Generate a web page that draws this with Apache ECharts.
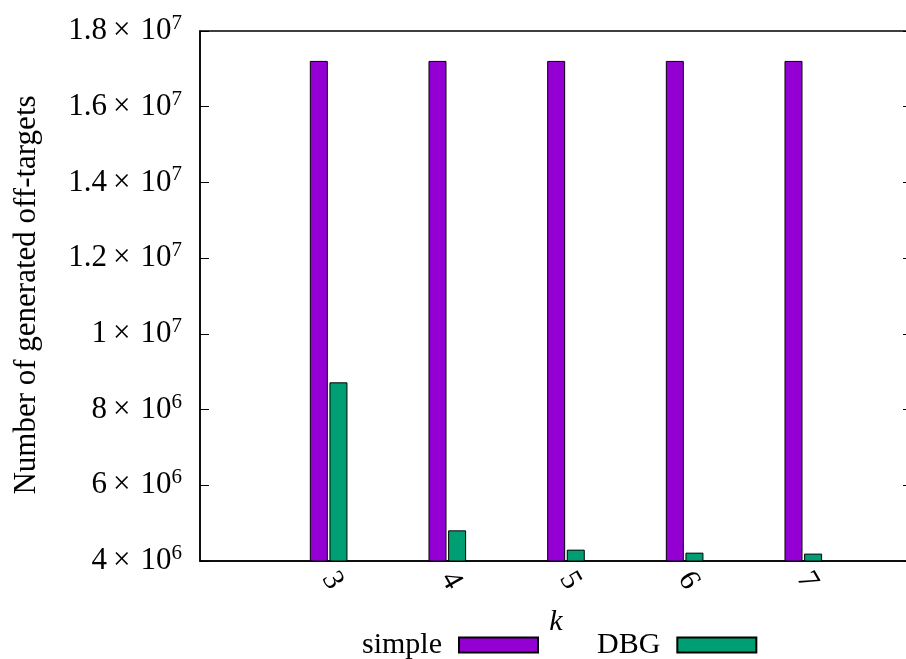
<!DOCTYPE html>
<html>
<head>
<meta charset="utf-8">
<script src="https://cdn.jsdelivr.net/npm/echarts@6/dist/echarts.min.js"></script>
<style>html,body{margin:0;padding:0;background:#fff}#c{width:906px;height:659px}</style>
</head>
<body>
<div id="c"></div>
<script>
var kValues = [3, 4, 5, 6, 7];
var simpleValues = [17210000, 17210000, 17210000, 17210000, 17210000];
var dbgValues = [8720000, 4810000, 4300000, 4220000, 4195000];
var seriesNames = ['simple', 'DBG'];
var yTicks = [4e6, 6e6, 8e6, 1e7, 1.2e7, 1.4e7, 1.6e7, 1.8e7];
var yTitle = 'Number of generated off-targets';
var xTitle = 'k';

var FONT = 'Liberation Serif';
var FS = 30;

function sciLabel(v) {
  var e = Math.floor(Math.log10(v) + 1e-9);
  var m = v / Math.pow(10, e);
  m = Math.round(m * 10) / 10;
  return '{m|' + m + '}{x|×}{m|10}{e|' + e + '}';
}

var chart = echarts.init(document.getElementById('c'));
var pairs = function (arr) { return arr.map(function (v, i) { return [kValues[i], v]; }); };
chart.setOption({
  animation: false,
  backgroundColor: '#fff',
  grid: { left: 200, top: 31, width: 712, height: 530, outerBoundsMode: 'none', containLabel: false, show: true, borderColor: '#000', borderWidth: 1.5, backgroundColor: 'transparent' },
  xAxis: {
    type: 'value',
    min: kValues[0] - 1.084,
    max: kValues[kValues.length - 1] + 0.916,
    splitLine: { show: false },
    axisLine: { show: true, onZero: false, lineStyle: { color: '#000', width: 1.5 } },
    axisTick: { show: false },
    axisLabel: {
      customValues: kValues,
      rotate: -60,
      margin: 13,
      fontFamily: FONT, fontSize: FS, color: '#000'
    },
    name: xTitle,
    nameLocation: 'middle',
    nameGap: 46,
    nameTextStyle: { fontFamily: FONT, fontSize: FS, fontStyle: 'italic', color: '#000' }
  },
  yAxis: [{
    type: 'value',
    min: yTicks[0],
    max: yTicks[yTicks.length - 1],
    interval: 2e6,
    splitLine: { show: false },
    axisLine: { show: true, lineStyle: { color: '#000', width: 1.5 } },
    axisTick: { show: true, inside: true, length: 9, lineStyle: { color: '#000', width: 1 } },
    axisLabel: {
      margin: 18,
      formatter: sciLabel,
      color: '#000',
      rich: {
        m: { fontFamily: FONT, fontSize: 31, color: '#000' },
        x: { fontFamily: FONT, fontSize: 31, color: '#000', padding: [0, 10, 0, 6] },
        e: { fontFamily: FONT, fontSize: 21, color: '#000', padding: [0, 0, 15, 0] }
      }
    }
  }, {
    type: 'value',
    position: 'right',
    min: yTicks[0],
    max: yTicks[yTicks.length - 1],
    interval: 2e6,
    splitLine: { show: false },
    axisLine: { show: false },
    axisTick: { show: true, inside: true, length: 9, lineStyle: { color: '#000', width: 1 } },
    axisLabel: { show: false }
  }],
  legend: {
    left: 357,
    top: 625,
    align: 'right',
    itemWidth: 79,
    itemHeight: 15,
    itemGap: 58,
    icon: 'rect',
    textStyle: { fontFamily: FONT, fontSize: FS, color: '#000', padding: [0, 12, 0, 0] },
    data: seriesNames
  },
  graphic: [{
    type: 'text',
    x: 27, y: 295,
    rotation: Math.PI / 2,
    style: { text: yTitle, font: '31px "' + FONT + '"', fill: '#000', align: 'center', verticalAlign: 'middle' }
  }],
  series: [{
    name: seriesNames[0],
    type: 'bar',
    data: pairs(simpleValues),
    barWidth: 18,
    barGap: '9%',
    itemStyle: { color: '#9400d3', borderColor: '#000', borderWidth: 1 }
  }, {
    name: seriesNames[1],
    type: 'bar',
    data: pairs(dbgValues),
    barWidth: 18,
    barGap: '9%',
    itemStyle: { color: '#009e73', borderColor: '#000', borderWidth: 1 }
  }]
});
</script>
</body>
</html>
